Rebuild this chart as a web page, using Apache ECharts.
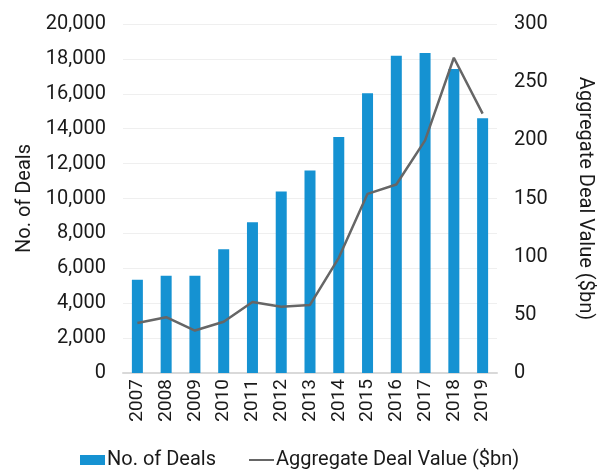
<!DOCTYPE html>
<html>
<head>
<meta charset="utf-8">
<script src="https://cdn.jsdelivr.net/npm/echarts@6/dist/echarts.min.js"></script>
<style>
  html, body { margin: 0; padding: 0; background: #fff; }
  #chart { width: 603px; height: 470px; }
</style>
</head>
<body>
<div id="chart"></div>
<script>
// data
const years = ["2007", "2008", "2009", "2010", "2011", "2012", "2013",
  "2014", "2015", "2016", "2017", "2018", "2019"];
const dealCount = [5350, 5570, 5570, 7090, 8640, 10400, 11600,
  13520, 16030, 18180, 18340, 17420, 14600];
const dealValue = [43, 48, 36.5, 44, 61, 57, 58.5,
  99, 154, 162, 200, 271, 223];
const leftTicks = { min: 0, max: 20000, interval: 2000 };
const rightTicks = { min: 0, max: 300, interval: 50 };

const font = "Roboto";
const textColor = "#1a1a1a";

const chart = echarts.init(document.getElementById("chart"));
chart.setOption({
  animation: false,
  textStyle: { fontFamily: font },
  grid: { left: 123, right: 101, top: 24, bottom: 97 },
  legend: {
    left: 75,
    top: 445,
    itemWidth: 25,
    itemHeight: 10,
    itemGap: 32,
    textStyle: { fontFamily: font, fontSize: 20, color: textColor, padding: [0, 0, 0, -3] },
    data: [
      { name: "No. of Deals", icon: "rect" },
      { name: "Aggregate Deal Value ($bn)", itemStyle: { opacity: 0 } },
    ],
  },
  xAxis: {
    type: "category",
    data: years,
    axisLine: { lineStyle: { color: "#d9d9d9", width: 2 } },
    axisTick: { show: false },
    axisLabel: {
      rotate: 90,
      fontSize: 19,
      color: textColor,
      margin: 6,
      interval: 0,
    },
  },
  yAxis: [
    {
      type: "value",
      min: leftTicks.min,
      max: leftTicks.max,
      interval: leftTicks.interval,
      name: "No. of Deals",
      nameLocation: "middle",
      nameGap: 88,
      nameRotate: 90,
      nameTextStyle: { fontSize: 20, color: textColor },
      axisLine: { show: false },
      axisTick: { show: false },
      splitLine: { lineStyle: { color: "#efefef", width: 1 } },
      axisLabel: {
        fontSize: 20,
        color: textColor,
        margin: 17,
        formatter: (v) => v.toLocaleString("en-US"),
      },
    },
    {
      type: "value",
      min: rightTicks.min,
      max: rightTicks.max,
      interval: rightTicks.interval,
      name: "Aggregate Deal Value ($bn)",
      nameLocation: "middle",
      nameGap: 78,
      nameRotate: -90,
      nameTextStyle: { fontSize: 20, color: textColor },
      axisLine: { show: false },
      axisTick: { show: false },
      splitLine: { show: false },
      axisLabel: { fontSize: 20, color: textColor, margin: 17 },
    },
  ],
  series: [
    {
      name: "No. of Deals",
      type: "bar",
      data: dealCount,
      barWidth: 11,
      itemStyle: { color: "#1592d2" },
    },
    {
      name: "Aggregate Deal Value ($bn)",
      type: "line",
      yAxisIndex: 1,
      data: dealValue,
      symbol: "none",
      lineStyle: { color: "#666666", width: 2.5 },
      itemStyle: { color: "#666666" },
    },
  ],
});
</script>
</body>
</html>
